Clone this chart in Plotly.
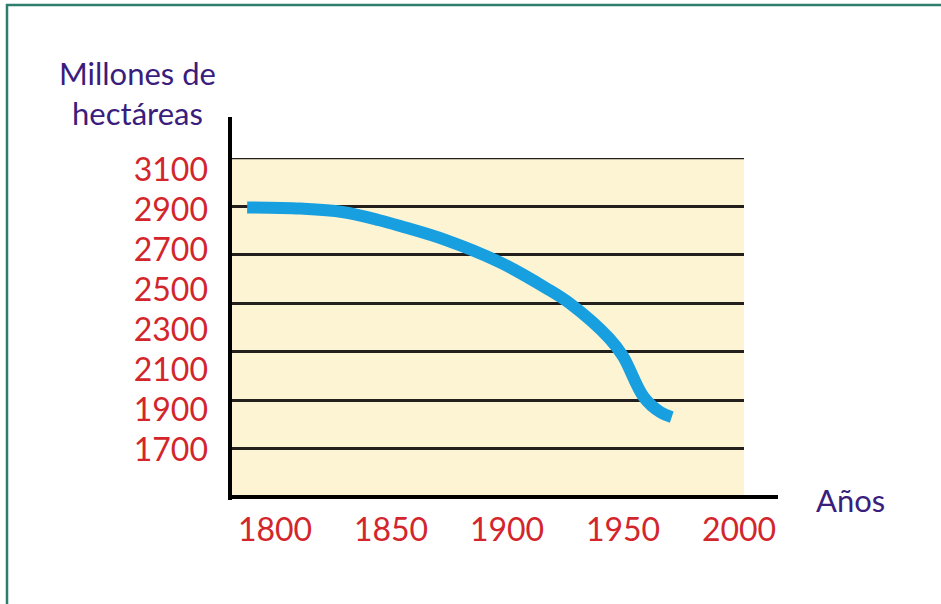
import plotly.graph_objects as go

# Data (forest area, millions of hectares)
years = [1788, 1811, 1829, 1845, 1854, 1874, 1897, 1917, 1927, 1944, 1950, 1959, 1966, 1971]
area = [2896, 2891, 2877, 2843, 2819, 2760, 2669, 2562, 2500, 2356, 2281, 2112, 2051, 2030]

x_ticks = [1800, 1850, 1900, 1950, 2000]
grid_vals = [1900, 2100, 2300, 2500, 2700, 2900, 3100]
y_label_vals = [1700, 1900, 2100, 2300, 2500, 2700, 2900, 3100]

y_title = "Millones de<br>hectáreas"
x_title = "Años"

W, H = 941, 604
L, R, T, B = 230, 744, 158, 497   # plot area in pixels


def px(xp):
    return (xp - L) / (R - L)


def py(yp):
    return (B - yp) / (B - T)


RED = "#d3262c"
PURPLE = "#3a1d7c"
FONT = "Lato"

fig = go.Figure()
fig.add_trace(go.Scatter(
    x=years, y=area, mode="lines",
    line=dict(color="#189fdf", width=12, shape="spline", smoothing=1.0),
    hoverinfo="x+y", showlegend=False,
))
# helper trace so that the label axis is drawn
fig.add_trace(go.Scatter(x=[1800], y=[1700], yaxis="y2", mode="markers",
                         marker=dict(opacity=0), hoverinfo="skip", showlegend=False))

fig.update_layout(
    width=W, height=H,
    margin=dict(l=L, r=W - R, t=T, b=H - B, pad=0),
    paper_bgcolor="white",
    plot_bgcolor="#fdf4d4",
    font=dict(family=FONT),
    xaxis=dict(
        range=[1800 - (275 - L) / 2.32, 1800 + (R - 275) / 2.32],
        tickvals=x_ticks, ticktext=[str(v) for v in x_ticks],
        showgrid=False, zeroline=False, showline=False, ticks="",
        tickfont=dict(color=RED, size=32, family=FONT),
        ticklabelstandoff=11, fixedrange=True,
    ),
    yaxis=dict(
        range=[1700, 3100], tickvals=grid_vals, showticklabels=False,
        showgrid=True, gridcolor="#231f1c", gridwidth=2.6,
        zeroline=False, showline=False, ticks="", fixedrange=True,
    ),
    yaxis2=dict(
        overlaying="y", anchor="x", side="left",
        range=[1465, 3160], tickvals=y_label_vals,
        ticktext=[str(v) for v in y_label_vals],
        showgrid=False, zeroline=False, showline=False, ticks="",
        tickfont=dict(color=RED, size=32, family=FONT),
        ticklabelstandoff=21, fixedrange=True,
    ),
    shapes=[
        # outer green frame
        dict(type="rect", xref="paper", yref="paper",
             x0=px(7), x1=px(W + 20), y0=py(H + 20), y1=py(5),
             line=dict(color="#2f7d6c", width=2.5), layer="above"),
        # top grid line (at the edge of the plotting area)
        dict(type="line", xref="paper", yref="y",
             x0=0, x1=1, y0=grid_vals[-1], y1=grid_vals[-1],
             line=dict(color="#231f1c", width=2.6), layer="below"),
        # y axis line
        dict(type="line", xref="paper", yref="paper",
             x0=px(230), x1=px(230), y0=py(500), y1=py(117),
             line=dict(color="black", width=4)),
        # x axis line
        dict(type="line", xref="paper", yref="paper",
             x0=px(228), x1=px(778), y0=py(497), y1=py(497),
             line=dict(color="black", width=4)),
    ],
    annotations=[
        dict(text=y_title, xref="paper", yref="paper", x=px(137), y=py(93),
             xanchor="center", yanchor="middle", showarrow=False, align="center",
             font=dict(color=PURPLE, size=31, family=FONT)),
        dict(text=x_title, xref="paper", yref="paper", x=px(850), y=py(500),
             xanchor="center", yanchor="middle", showarrow=False,
             font=dict(color=PURPLE, size=31, family=FONT)),
    ],
)

fig.write_html(
    "out.html",
    config={"displayModeBar": False},
    post_script="document.body.style.margin='0';document.body.style.overflow='hidden';",
)
